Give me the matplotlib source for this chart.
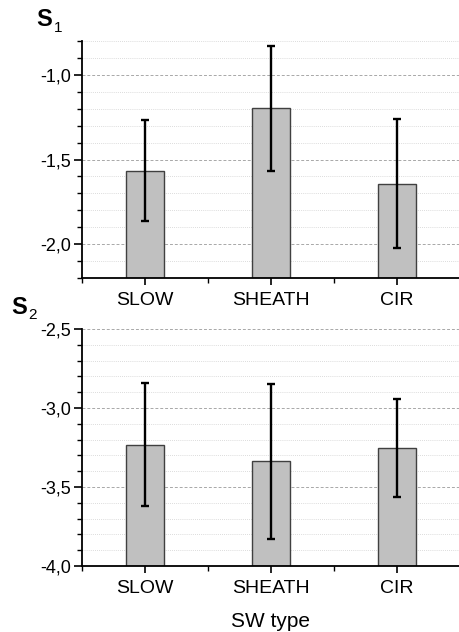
import matplotlib
matplotlib.use("Agg")
import matplotlib.pyplot as plt
from matplotlib.ticker import MultipleLocator, FuncFormatter

plt.rcParams["font.family"] = ["Liberation Sans", "DejaVu Sans"]

# ── 資料 ──────────────────────────────────────────
types = ["SLOW", "SHEATH", "CIR"]
s1_mean = [-1.565, -1.197, -1.643]
s1_err = [0.30, 0.37, 0.38]
s2_mean = [-3.232, -3.337, -3.251]
s2_err = [0.39, 0.49, 0.31]

BAR_FC = "#c0c0c0"
BAR_EC = "#404040"

comma = FuncFormatter(lambda v, p: f"{v:.1f}".replace(".", ","))


def panel(ax, means, errs, ylim):
    x = list(range(1, len(types) + 1))
    ax.bar(x, [m - ylim[0] for m in means], bottom=ylim[0], width=0.3,
           color=BAR_FC, edgecolor=BAR_EC, linewidth=1.0, zorder=2)
    ax.errorbar(x, means, yerr=errs, fmt="none", ecolor="black",
                elinewidth=1.7, capsize=3, capthick=1.7, zorder=3)
    ax.set_xlim(0.5, 3.5)
    ax.set_ylim(*ylim)
    ax.set_xticks(x)
    ax.set_xticklabels(types, fontsize=14)
    ax.set_xticks([0.5, 1.5, 2.5, 3.5], minor=True)
    ax.yaxis.set_major_locator(MultipleLocator(0.5))
    ax.yaxis.set_minor_locator(MultipleLocator(0.1))
    ax.yaxis.set_major_formatter(comma)
    ax.tick_params(axis="y", which="major", labelsize=13, length=6, width=1.2, pad=2)
    ax.tick_params(axis="y", which="minor", length=3.5, width=1.0)
    ax.tick_params(axis="x", which="major", length=5, width=1.2, pad=5)
    ax.tick_params(axis="x", which="minor", length=3.5, width=1.0)
    ax.grid(axis="y", which="major", linestyle=(0, (3, 2)), color="#a8a8a8",
            linewidth=0.7, zorder=0)
    ax.grid(axis="y", which="minor", linestyle=(0, (1, 1.5)), color="#d0d0d0",
            linewidth=0.6, zorder=0)
    ax.set_axisbelow(True)
    for s in ("top", "right"):
        ax.spines[s].set_visible(False)
    for s in ("left", "bottom"):
        ax.spines[s].set_linewidth(1.3)


fig = plt.figure(figsize=(4.6, 6.32), dpi=100)
ax1 = fig.add_axes([0.178, 0.5604, 0.822, 0.3744])
ax2 = fig.add_axes([0.178, 0.1044, 0.822, 0.3750])

panel(ax1, s1_mean, s1_err, (-2.2, -0.8))
panel(ax2, s2_mean, s2_err, (-4.0, -2.5))

ax2.set_xlabel("SW type", fontsize=15, labelpad=11)

# 面板標題 S1 / S2
fig.text(0.078, 0.951, "S", fontsize=17, fontweight="bold", ha="left", va="bottom")
fig.text(0.117, 0.945, "1", fontsize=11, ha="left", va="bottom")
fig.text(0.024, 0.496, "S", fontsize=17, fontweight="bold", ha="left", va="bottom")
fig.text(0.062, 0.490, "2", fontsize=11, ha="left", va="bottom")

fig.savefig("out.png", dpi=100)
